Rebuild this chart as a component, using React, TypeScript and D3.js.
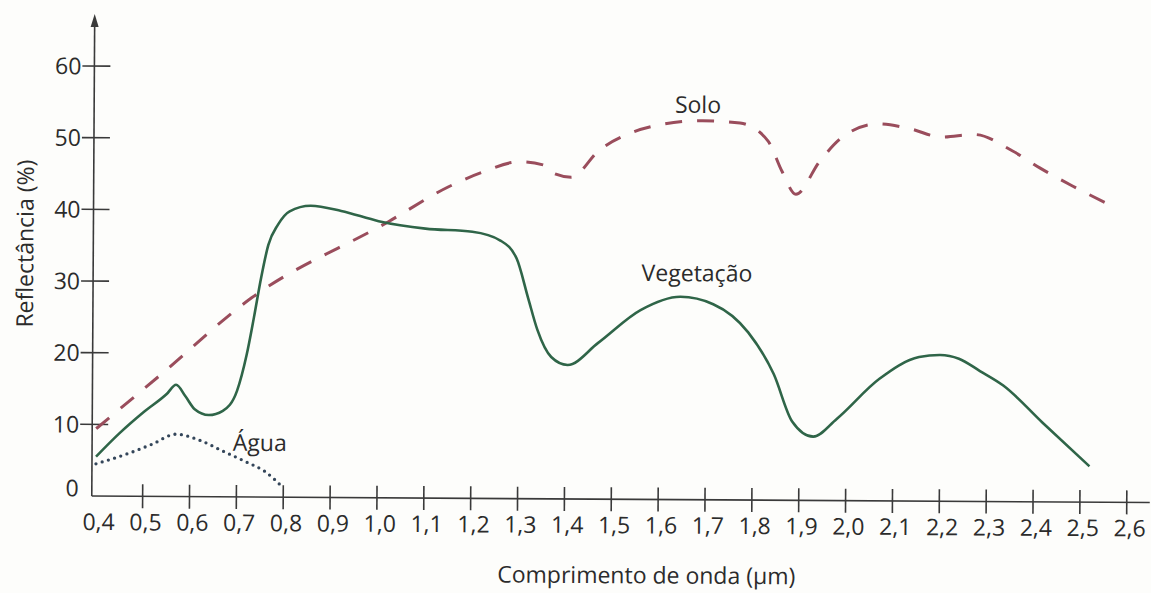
import React, { useRef, useEffect } from 'react';
import * as d3 from 'd3';

// wavelength ticks (µm) and reflectance ticks (%)
const xTicks = [0.4, 0.5, 0.6, 0.7, 0.8, 0.9, 1.0, 1.1, 1.2, 1.3, 1.4, 1.5, 1.6, 1.7, 1.8, 1.9, 2.0, 2.1, 2.2, 2.3, 2.4, 2.5, 2.6];
const yTicks = [0, 10, 20, 30, 40, 50, 60];

// Vegetação
const vegX = [0.4, 0.45, 0.5, 0.55, 0.57, 0.59, 0.61, 0.64, 0.67, 0.7, 0.72, 0.735, 0.75, 0.765, 0.785, 0.81, 0.855, 0.92, 1.0, 1.1, 1.2, 1.26, 1.295, 1.32, 1.34, 1.37, 1.405, 1.47, 1.56, 1.645, 1.715, 1.79, 1.845, 1.885, 1.93, 1.98, 2.07, 2.155, 2.2, 2.24, 2.285, 2.335, 2.42, 2.52];
const vegY = [5.5, 8.8, 11.7, 14.3, 15.6, 14.0, 12.2, 11.4, 12.0, 14.8, 19.8, 25.0, 30.6, 35.2, 38.0, 39.9, 40.7, 40.0, 38.6, 37.6, 37.2, 36.0, 33.5, 28.0, 23.6, 19.8, 18.7, 21.8, 26.4, 28.3, 27.3, 23.4, 17.6, 11.0, 8.9, 11.4, 17.0, 20.1, 20.4, 19.9, 18.2, 16.2, 11.0, 5.0];

// Solo
const soloX = [0.4, 0.53, 0.73, 1.02, 1.15, 1.22, 1.3, 1.35, 1.37, 1.41, 1.47, 1.54, 1.6, 1.69, 1.77, 1.83, 1.86, 1.89, 1.94, 1.99, 2.065, 2.135, 2.2, 2.27, 2.35, 2.41, 2.48, 2.56];
const soloY = [9.4, 16.6, 27.8, 38.5, 43.5, 45.5, 47.0, 46.6, 45.5, 44.9, 48.7, 51.2, 52.3, 52.9, 52.6, 50.1, 45.9, 42.7, 47.3, 50.8, 52.6, 51.9, 50.8, 51.2, 49.0, 46.6, 44.1, 41.5];

// Água
const aguaX = [0.4, 0.47, 0.52, 0.57, 0.62, 0.67, 0.72, 0.76, 0.8];
const aguaY = [4.5, 6.0, 7.3, 8.7, 7.9, 6.4, 4.9, 3.6, 1.3];

const fmt = (v: number) => v.toFixed(1).replace('.', ',');

const App = () => {
  const ref = useRef<SVGSVGElement | null>(null);

  useEffect(() => {
    const width = 1151;
    const height = 593;
    const font = '"Open Sans", "Noto Sans", sans-serif';
    const fontSize = '23px';
    const ink = '#3a3a3a';
    const textInk = '#2b2b2b';

    const svg = d3.select(ref.current);
    svg.selectAll('*').remove();
    svg.attr('width', width).attr('height', height);

    svg.append('rect').attr('width', width).attr('height', height).attr('fill', '#fdfdfb');

    // the scan is turned a little clockwise
    const g = svg.append('g').attr('transform', `rotate(0.35, ${width / 2}, ${height / 2})`);

    const x = d3.scaleLinear().domain([0.4, 2.6]).range([97, 1128]);
    const y = d3.scaleLinear().domain([0, 60]).range([499, 69]);
    const axisX = x(0.4) - 4;

    // axes
    g.append('line')
      .attr('x1', axisX).attr('x2', axisX)
      .attr('y1', 26).attr('y2', y(0))
      .attr('stroke', ink).attr('stroke-width', 1.6);
    g.append('path')
      .attr('d', `M${axisX},17 L${axisX - 4},30 L${axisX + 4},30 Z`)
      .attr('fill', ink);
    g.append('line')
      .attr('x1', axisX).attr('x2', width)
      .attr('y1', y(0)).attr('y2', y(0))
      .attr('stroke', ink).attr('stroke-width', 1.6);

    // y ticks
    g.selectAll('.ytick')
      .data(yTicks.filter(d => d > 0))
      .enter().append('line')
      .attr('x1', axisX - 12).attr('x2', axisX + 16)
      .attr('y1', d => y(d)).attr('y2', d => y(d))
      .attr('stroke', ink).attr('stroke-width', 1.6);
    g.selectAll('.ylabel')
      .data(yTicks)
      .enter().append('text')
      .attr('x', axisX - 13)
      .attr('y', d => (d === 0 ? y(d) - 8 : y(d)))
      .attr('dy', '0.36em')
      .attr('text-anchor', 'end')
      .style('font-family', font).style('font-size', fontSize).attr('fill', textInk)
      .text(d => d);

    // x ticks
    g.selectAll('.xtick')
      .data(xTicks.filter(d => d > 0.4))
      .enter().append('line')
      .attr('x1', d => x(d)).attr('x2', d => x(d))
      .attr('y1', y(0) - 12).attr('y2', y(0) + 12)
      .attr('stroke', ink).attr('stroke-width', 1.6);
    g.selectAll('.xlabel')
      .data(xTicks)
      .enter().append('text')
      .attr('x', d => x(d) + 3)
      .attr('y', 533)
      .attr('text-anchor', 'middle')
      .style('font-family', font).style('font-size', fontSize).attr('fill', textInk)
      .text(d => fmt(d));

    // titles
    g.append('text')
      .attr('x', 648).attr('y', 583)
      .attr('text-anchor', 'middle')
      .style('font-family', font).style('font-size', fontSize).attr('fill', textInk)
      .text('Comprimento de onda (μm)');
    g.append('text')
      .attr('transform', 'translate(33,247) rotate(-90)')
      .attr('text-anchor', 'middle')
      .style('font-family', font).style('font-size', fontSize).attr('fill', textInk)
      .text('Reflectância (%)');

    const line = d3.line<[number, number]>()
      .x(d => x(d[0]))
      .y(d => y(d[1]))
      .curve(d3.curveMonotoneX);

    // Solo
    g.append('path')
      .attr('d', line(d3.zip(soloX, soloY) as [number, number][]))
      .attr('fill', 'none')
      .attr('stroke', '#9a4d5c')
      .attr('stroke-width', 3)
      .attr('stroke-dasharray', '17 15');

    // Vegetação
    g.append('path')
      .attr('d', line(d3.zip(vegX, vegY) as [number, number][]))
      .attr('fill', 'none')
      .attr('stroke', '#2f6548')
      .attr('stroke-width', 2.6);

    // Água
    g.append('path')
      .attr('d', line(d3.zip(aguaX, aguaY) as [number, number][]))
      .attr('fill', 'none')
      .attr('stroke', '#34465a')
      .attr('stroke-width', 3.3)
      .attr('stroke-linecap', 'round')
      .attr('stroke-dasharray', '0 6.5');

    // series labels
    const labels = [
      { t: 'Solo', x: 1.68, y: 53, dx: 0, dy: -7 },
      { t: 'Vegetação', x: 1.68, y: 29.5, dx: 0, dy: -7 },
      { t: 'Água', x: 0.745, y: 4.9, dx: 2, dy: -11 },
    ];
    g.selectAll('.lbl')
      .data(labels)
      .enter().append('text')
      .attr('x', d => x(d.x) + d.dx)
      .attr('y', d => y(d.y) + d.dy)
      .attr('text-anchor', 'middle')
      .style('font-family', font).style('font-size', fontSize).attr('fill', textInk)
      .text(d => d.t);
  }, []);

  return <svg ref={ref} style={{ position: 'absolute', left: 0, top: 0 }} />;
};

export default App;
